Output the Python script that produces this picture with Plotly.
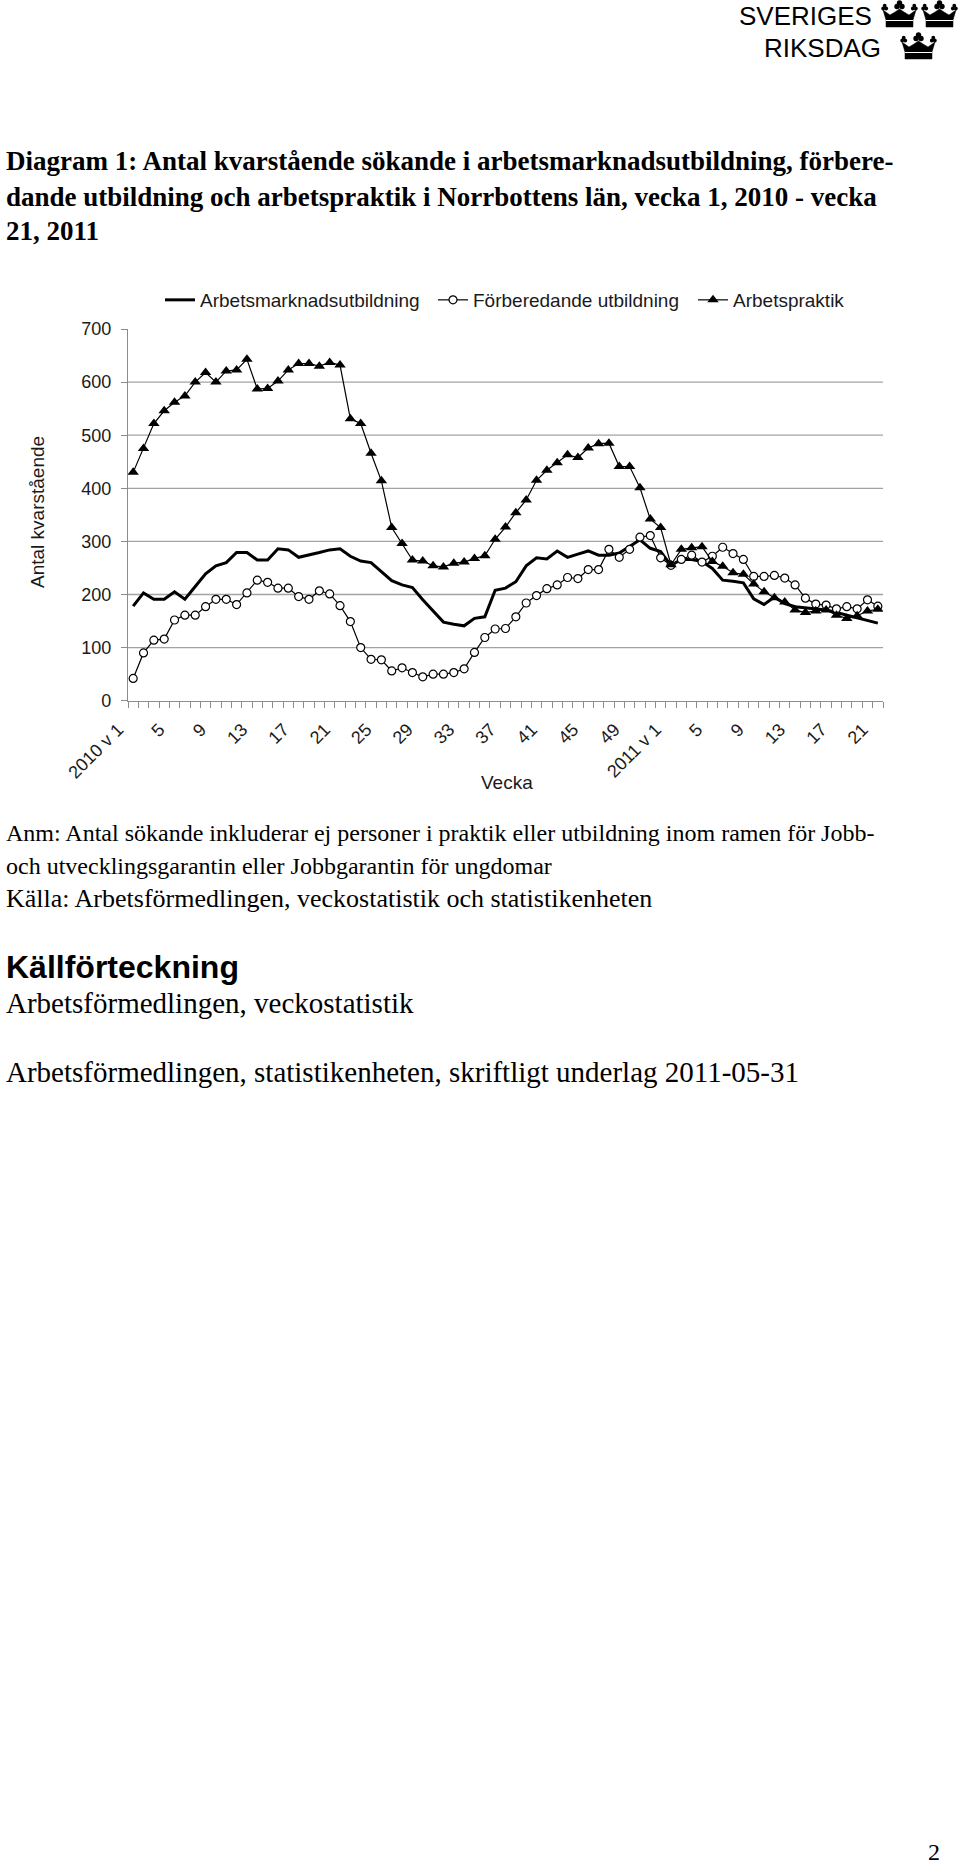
import plotly.graph_objects as go

# ---------------- data ----------------
years_weeks = [(2010, 52), (2011, 21)]
categories = [f"{y} v {w}" for y, n in years_weeks for w in range(1, n + 1)]

tick_labels = ["2010 v 1", "5", "9", "13", "17", "21", "25", "29", "33", "37",
               "41", "45", "49", "2011 v 1", "5", "9", "13", "17", "21"]

arbetsmarknadsutbildning = [
    178, 203, 191, 191, 205, 191, 215, 239, 254, 260,
    279, 279, 265, 265, 286, 284, 270, 274, 279, 284,
    286, 272, 263, 260, 243, 226, 218, 213, 190, 169,
    148, 144, 141, 155, 158, 208, 212, 224, 254, 269,
    267, 282, 270, 276, 282, 274, 274, 278, 290, 303,
    287, 281, 255, 266, 266, 262, 249, 227, 225, 222,
    192, 181, 195, 183, 177, 175, 172, 171, 166, 161,
    157, 152, 146]

forberedande_utbildning = [
    42, 90, 114, 116, 152, 161, 161, 177, 191, 191,
    181, 203, 227, 223, 212, 212, 196, 191, 207, 201,
    179, 149, 100, 78, 77, 56, 62, 53, 45, 50,
    50, 53, 60, 91, 119, 135, 136, 158, 184, 198,
    211, 218, 232, 230, 247, 247, 285, 270, 285, 308,
    311, 269, 255, 266, 274, 261, 272, 289, 277, 266,
    234, 234, 236, 231, 218, 193, 182, 180, 173, 177,
    173, 190, 178]

arbetspraktik = [
    430, 475, 522, 546, 562, 574, 600, 618, 600, 621,
    623, 643, 587, 588, 602, 623, 635, 635, 630, 637,
    632, 531, 522, 466, 414, 326, 296, 265, 263, 254,
    252, 259, 261, 268, 273, 304, 327, 354, 378, 415,
    434, 448, 463, 458, 476, 484, 485, 441, 441, 401,
    342, 326, 256, 285, 288, 290, 262, 253, 241, 238,
    220, 205, 194, 186, 171, 166, 169, 171, 161, 155,
    160, 169, 172]

y_ticks = [0, 100, 200, 300, 400, 500, 600, 700]
grid_values = [100, 200, 300, 400, 500, 600]

# ---------------- geometry helpers ----------------
W, H = 960, 1873


def px(x):
    return x / W


def py(y):
    return 1 - y / H


ticktext = []
li = 0
for i, c in enumerate(categories):
    if i % 4 == 0:
        ticktext.append(tick_labels[li])
        li += 1
    else:
        ticktext.append("")

fig = go.Figure()

fig.add_trace(go.Scatter(
    x=categories, y=arbetsmarknadsutbildning, mode="lines",
    name="Arbetsmarknadsutbildning",
    line=dict(color="black", width=3), legend="legend"))
fig.add_trace(go.Scatter(
    x=categories, y=forberedande_utbildning, mode="lines+markers",
    name="Förberedande utbildning",
    line=dict(color="black", width=1.2),
    marker=dict(symbol="circle", size=8, color="white",
                line=dict(color="black", width=1.2)),
    legend="legend2"))
fig.add_trace(go.Scatter(
    x=categories, y=arbetspraktik, mode="lines+markers",
    name="Arbetspraktik",
    line=dict(color="black", width=1.2),
    marker=dict(symbol="triangle-up", size=10, color="black"),
    legend="legend3"))

axis_grey = "#8c8c8c"
tick_font = dict(family="Liberation Sans, Arial, sans-serif", size=18, color="#1a1a1a")
legend_font = dict(family="Liberation Sans, Arial, sans-serif", size=19, color="#1a1a1a")

# gridlines (no gridline at the top value)
shapes = []
for v in grid_values:
    shapes.append(dict(type="line", xref="x domain", x0=0, x1=1, yref="y", y0=v, y1=v,
                       line=dict(color="#a3a3a3", width=1.3), layer="below"))


# crowns of the logo
def crown(bx, by, s):
    def P(u, v):
        return f"{px(bx + u * s):.5f},{py(by + v * s):.5f}"
    pts = [(4, 27), (31, 27), (31, 20), (34, 10), (27, 15), (22, 12), (17.5, 9),
           (13, 12), (8, 15), (1, 10), (4, 20)]
    path = "M " + " L ".join(P(u, v) for u, v in pts) + " Z"
    out = [dict(type="path", xref="paper", yref="paper", path=path,
                fillcolor="black", line=dict(color="black", width=0.5))]
    circles = [(15, 6.5, 2.7), (20, 6.5, 2.7), (17.5, 3, 2.7),
               (1.2, 8.5, 1.9), (4.2, 8.5, 1.9), (2.7, 5.6, 1.9),
               (30.8, 8.5, 1.9), (33.8, 8.5, 1.9), (32.3, 5.6, 1.9)]
    for (u, v, r) in circles:
        out.append(dict(type="circle", xref="paper", yref="paper",
                        x0=px(bx + (u - r) * s), x1=px(bx + (u + r) * s),
                        y0=py(by + (v + r) * s), y1=py(by + (v - r) * s),
                        fillcolor="black", line=dict(color="black", width=0)))
    out.append(dict(type="line", xref="paper", yref="paper",
                    x0=px(bx + 4 * s), x1=px(bx + 31 * s),
                    y0=py(by + 20.5 * s), y1=py(by + 20.5 * s),
                    line=dict(color="white", width=1)))
    return out


shapes += crown(882, 0, 1.0)
shapes += crown(922, 0, 1.0)
shapes += crown(901, 32, 1.0)

serif = "Liberation Serif, Times New Roman, serif"
sans = "Liberation Sans, Arial, sans-serif"

annotations = []


def text(s, x, y, size, family=serif, bold=False, xanchor="left", angle=0, color="black"):
    annotations.append(dict(
        text=f"<b>{s}</b>" if bold else s, xref="paper", yref="paper",
        x=px(x), y=py(y), xanchor=xanchor, yanchor="middle", showarrow=False,
        textangle=angle, font=dict(family=family, size=size, color=color)))


# logo text
text("SVERIGES", 737, 16, 26, family="Liberation Sans, Lato, sans-serif")
text("RIKSDAG", 762, 48, 26, family="Liberation Sans, Lato, sans-serif")

# title
text("Diagram 1: Antal kvarstående sökande i arbetsmarknadsutbildning, förbere-", 4, 161, 27, bold=True)
text("dande utbildning och arbetspraktik i Norrbottens län, vecka 1, 2010 - vecka", 4, 197, 27, bold=True)
text("21, 2011", 4, 231, 27, bold=True)

# axis titles
text("Antal kvarstående", 38, 512, 19, family=sans, xanchor="center", angle=-90, color="#1a1a1a")
text("Vecka", 507, 782, 19, family=sans, xanchor="center", color="#1a1a1a")

# notes
text("Anm: Antal sökande inkluderar ej personer i praktik eller utbildning inom ramen för Jobb-", 4, 833, 24)
text("och utvecklingsgarantin eller Jobbgarantin för ungdomar", 4, 866, 24)
text("Källa: Arbetsförmedlingen, veckostatistik och statistikenheten", 4, 899, 26)
text("Källförteckning", 4, 967, 32, family=sans, bold=True)
text("Arbetsförmedlingen, veckostatistik", 4, 1003, 29)
text("Arbetsförmedlingen, statistikenheten, skriftligt underlag 2011-05-31", 4, 1072, 29)
text("2", 934, 1852, 24, xanchor="center")

fig.update_layout(
    width=W, height=H,
    margin=dict(l=0, r=0, t=0, b=0, pad=0),
    paper_bgcolor="white", plot_bgcolor="white",
    xaxis=dict(
        domain=[px(128), px(883)], type="category", range=[-0.5, len(categories) - 0.5],
        tickmode="array", tickvals=categories, ticktext=ticktext,
        tickson="boundaries", ticks="outside", ticklen=6, tickwidth=1, tickcolor=axis_grey,
        tickangle=-45, tickfont=tick_font, ticklabelstandoff=10, ticklabelshift=-15,
        showline=True, linecolor=axis_grey, linewidth=1.3,
        showgrid=False, zeroline=False, automargin=False, fixedrange=True),
    yaxis=dict(
        domain=[py(700.7), py(329)], range=[0, 700],
        tickmode="array", tickvals=y_ticks,
        ticks="outside", ticklen=6, tickwidth=1, tickcolor=axis_grey,
        tickfont=tick_font, ticklabelstandoff=6,
        showline=True, linecolor=axis_grey, linewidth=1.3,
        showgrid=False, zeroline=False, automargin=False, fixedrange=True),
    legend=dict(x=px(160), y=py(300), xanchor="left", yanchor="middle",
                orientation="h", font=legend_font, bgcolor="rgba(0,0,0,0)"),
    legend2=dict(x=px(433), y=py(300), xanchor="left", yanchor="middle",
                 orientation="h", font=legend_font, bgcolor="rgba(0,0,0,0)"),
    legend3=dict(x=px(693), y=py(300), xanchor="left", yanchor="middle",
                 orientation="h", font=legend_font, bgcolor="rgba(0,0,0,0)"),
    shapes=shapes,
    annotations=annotations,
    showlegend=True,
)

fig.write_html("out.html", post_script="document.body.style.margin='0';",
               config={"displayModeBar": False})
